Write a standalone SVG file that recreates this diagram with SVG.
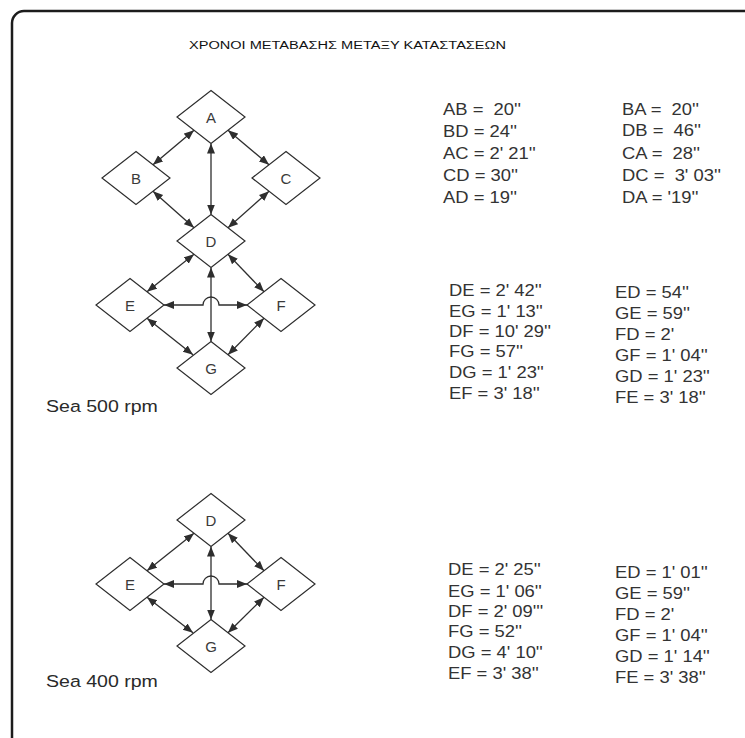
<svg xmlns="http://www.w3.org/2000/svg" width="745" height="738" viewBox="0 0 745 738">
<style>
.node polygon{fill:#fff;stroke:#2e2e2e;stroke-width:1.2}
.node text{font-family:"Liberation Sans",Arial,sans-serif;font-size:15px;fill:#3a3a3a;text-anchor:middle}
.conn line,.conn path{stroke:#2e2e2e;stroke-width:1.3;fill:none;marker-start:url(#ah);marker-end:url(#ah)}
.t{font-family:"Liberation Sans",Arial,sans-serif;font-size:16px;fill:#333;white-space:pre}
.lbl{font-family:"Liberation Sans",Arial,sans-serif;font-size:17px;fill:#2a2a2a;white-space:pre}
</style>
<defs>
<marker id="ah" markerUnits="userSpaceOnUse" markerWidth="11" markerHeight="9" refX="10" refY="4" orient="auto-start-reverse" viewBox="0 0 11 9">
<path d="M0,0 L10,4 L0,8 z" fill="#2e2e2e"/>
</marker>
</defs>
<rect width="745" height="738" fill="#fff"/>
<path d="M745,11 H24 A12,12 0 0 0 12,23 V738" fill="none" stroke="#1c1c1c" stroke-width="2.5"/>
<text x="189" y="49" font-family="'Liberation Sans',Arial,sans-serif" font-size="10" fill="#111" textLength="317" lengthAdjust="spacingAndGlyphs">ΧΡΟΝΟΙ ΜΕΤΑΒΑΣΗΣ ΜΕΤΑΞΥ ΚΑΤΑΣΤΑΣΕΩΝ</text>

<!-- Diagram 1 connectors -->
<g id="connectors-500" class="conn">
<line x1="194" y1="130.3" x2="153" y2="164.8"/>
<line x1="228" y1="130.3" x2="269" y2="164.8"/>
<line x1="153" y1="191.3" x2="194" y2="227.8"/>
<line x1="269" y1="191.3" x2="228" y2="227.8"/>
<line x1="211" y1="143.5" x2="211" y2="214.5"/>
<line x1="194" y1="254.3" x2="147" y2="291.8"/>
<line x1="228" y1="254.3" x2="264" y2="291.8"/>
<line x1="147" y1="318.3" x2="193" y2="354.8"/>
<line x1="264" y1="318.3" x2="228" y2="354.8"/>
<line x1="211" y1="267.5" x2="211" y2="341.5"/>
<path d="M164,305 H203 A8,8 0 0 1 219,305 H247"/>
</g>
<g id="A" class="node"><polygon points="211,90.5 245,117 211,143.5 177,117"/><text x="211" y="122.5">A</text></g>
<g id="B" class="node"><polygon points="136,151.5 170,178 136,204.5 102,178"/><text x="136" y="183.5">B</text></g>
<g id="C" class="node"><polygon points="286,151.5 320,178 286,204.5 252,178"/><text x="286" y="183.5">C</text></g>
<g id="D" class="node"><polygon points="211,214.5 245,241 211,267.5 177,241"/><text x="211" y="246.5">D</text></g>
<g id="E" class="node"><polygon points="130,278.5 164,305 130,331.5 96,305"/><text x="130" y="310.5">E</text></g>
<g id="F" class="node"><polygon points="281,278.5 315,305 281,331.5 247,305"/><text x="281" y="310.5">F</text></g>
<g id="G" class="node"><polygon points="211,341.5 245,368 211,394.5 177,368"/><text x="211" y="373.5">G</text></g>
<text class="lbl" transform="translate(46,411.5) scale(1.15,1)">Sea 500 rpm</text>

<!-- Diagram 2 connectors -->
<g id="connectors-400" class="conn">
<line x1="194" y1="533.3" x2="147" y2="570.8"/>
<line x1="228" y1="533.3" x2="264" y2="570.8"/>
<line x1="147" y1="597.3" x2="193" y2="632.8"/>
<line x1="264" y1="597.3" x2="228" y2="632.8"/>
<line x1="211" y1="546.5" x2="211" y2="619.5"/>
<path d="M164,584 H203 A8,8 0 0 1 219,584 H247"/>
</g>
<g id="D2" class="node"><polygon points="211,493.5 245,520 211,546.5 177,520"/><text x="211" y="525.5">D</text></g>
<g id="E2" class="node"><polygon points="130,557.5 164,584 130,610.5 96,584"/><text x="130" y="589.5">E</text></g>
<g id="F2" class="node"><polygon points="281,557.5 315,584 281,610.5 247,584"/><text x="281" y="589.5">F</text></g>
<g id="G2" class="node"><polygon points="211,619.5 245,646 211,672.5 177,646"/><text x="211" y="651.5">G</text></g>
<text class="lbl" transform="translate(46,687) scale(1.15,1)">Sea 400 rpm</text>

<!-- Tables -->
<g id="table-500-abcd-left" transform="translate(443,0) scale(1.15,1)">
<text class="t" y="115">AB =  20''</text>
<text class="t" y="137">BD = 24''</text>
<text class="t" y="159">AC = 2' 21''</text>
<text class="t" y="181">CD = 30''</text>
<text class="t" y="203">AD = 19''</text>
</g>
<g id="table-500-abcd-right" transform="translate(622,0) scale(1.15,1)">
<text class="t" y="115">BA =  20''</text>
<text class="t" y="136">DB =  46''</text>
<text class="t" y="159">CA =  28''</text>
<text class="t" y="181">DC =  3' 03''</text>
<text class="t" y="203">DA = '19''</text>
</g>
<g id="table-500-defg-left" transform="translate(449,0) scale(1.15,1)">
<text class="t" y="296">DE = 2' 42''</text>
<text class="t" y="317">EG = 1' 13''</text>
<text class="t" y="337">DF = 10' 29''</text>
<text class="t" y="357.5">FG = 57''</text>
<text class="t" y="378.5">DG = 1' 23''</text>
<text class="t" y="399.5">EF = 3' 18''</text>
</g>
<g id="table-500-defg-right" transform="translate(615,0) scale(1.15,1)">
<text class="t" y="298.5">ED = 54''</text>
<text class="t" y="319.5">GE = 59''</text>
<text class="t" y="340">FD = 2'</text>
<text class="t" y="361">GF = 1' 04''</text>
<text class="t" y="382">GD = 1' 23''</text>
<text class="t" y="403.5">FE = 3' 18''</text>
</g>
<g id="table-400-left" transform="translate(448,0) scale(1.15,1)">
<text class="t" y="575">DE = 2' 25''</text>
<text class="t" y="597">EG = 1' 06''</text>
<text class="t" y="617">DF = 2' 09'''</text>
<text class="t" y="637.5">FG = 52''</text>
<text class="t" y="658.5">DG = 4' 10''</text>
<text class="t" y="679.5">EF = 3' 38''</text>
</g>
<g id="table-400-right" transform="translate(615,0) scale(1.15,1)">
<text class="t" y="578.5">ED = 1' 01''</text>
<text class="t" y="599.5">GE = 59''</text>
<text class="t" y="620">FD = 2'</text>
<text class="t" y="641">GF = 1' 04''</text>
<text class="t" y="662">GD = 1' 14''</text>
<text class="t" y="683">FE = 3' 38''</text>
</g>
</svg>
